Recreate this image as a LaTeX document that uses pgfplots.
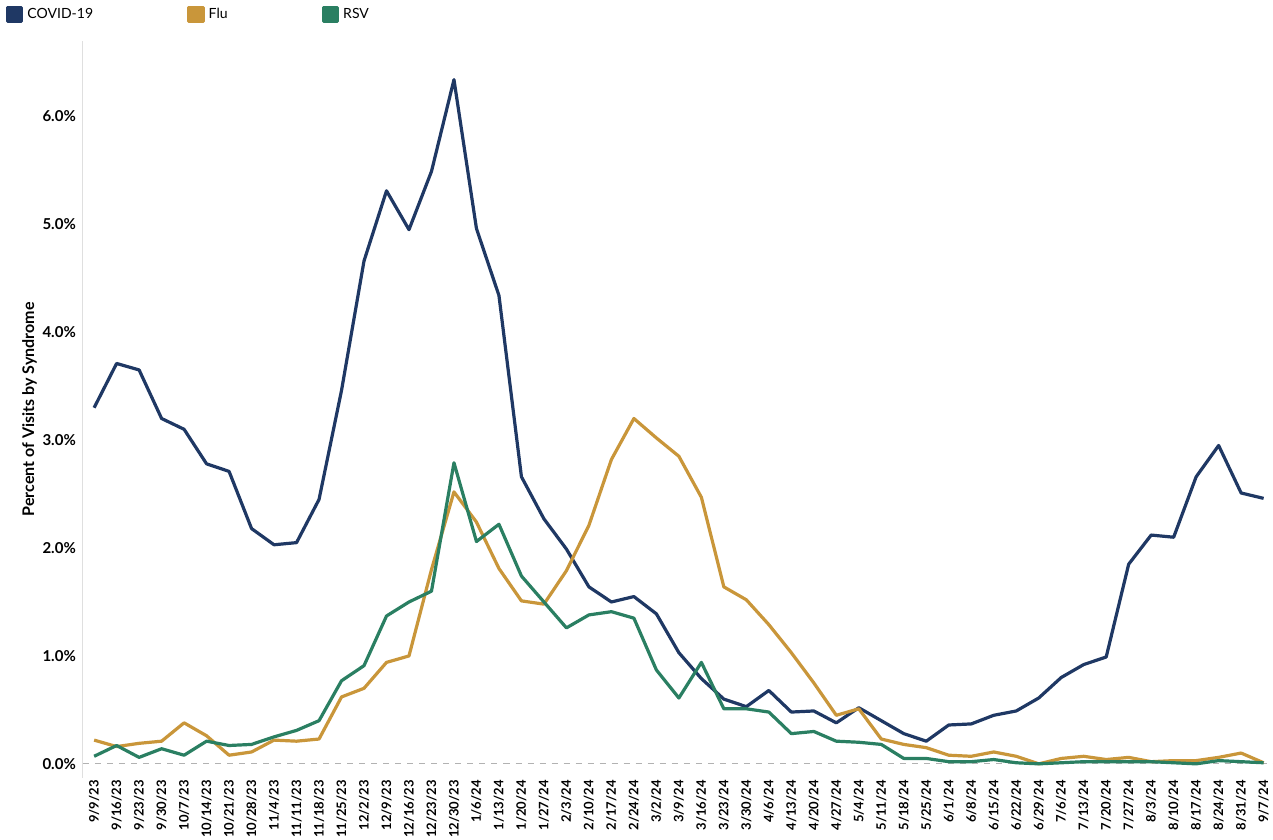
\documentclass[border=0pt]{standalone}
\usepackage{pgfplots}
\pgfplotsset{compat=1.18}
\usepackage{fontspec}
\setmainfont{Lato}
\definecolor{cov}{RGB}{31,56,100}
\definecolor{flu}{RGB}{201,150,58}
\definecolor{rsv}{RGB}{42,127,98}
\begin{document}
\begin{tikzpicture}
\begin{axis}[
  scale only axis, width=594pt, height=368pt,
  xmin=-0.5, xmax=52.4, ymin=-0.13, ymax=6.7,
  axis x line*=bottom, x axis line style={draw=none},
  axis y line*=left, y axis line style={gray!25},
  xtick={0,...,52}, xtick style={draw=none},
  xticklabels={{9/9/23},{9/16/23},{9/23/23},{9/30/23},{10/7/23},{10/14/23},{10/21/23},{10/28/23},{11/4/23},{11/11/23},{11/18/23},{11/25/23},{12/2/23},{12/9/23},{12/16/23},{12/23/23},{12/30/23},{1/6/24},{1/13/24},{1/20/24},{1/27/24},{2/3/24},{2/10/24},{2/17/24},{2/24/24},{3/2/24},{3/9/24},{3/16/24},{3/23/24},{3/30/24},{4/6/24},{4/13/24},{4/20/24},{4/27/24},{5/4/24},{5/11/24},{5/18/24},{5/25/24},{6/1/24},{6/8/24},{6/15/24},{6/22/24},{6/29/24},{7/6/24},{7/13/24},{7/20/24},{7/27/24},{8/3/24},{8/10/24},{8/17/24},{8/24/24},{8/31/24},{9/7/24}},
  xticklabel style={rotate=90, anchor=east, font=\fontsize{6.5}{7}\selectfont\bfseries, inner sep=1pt},
  ytick={0,1,2,3,4,5,6}, yticklabel={\pgfmathprintnumber[fixed,fixed zerofill,precision=1]{\tick}\%},
  /pgf/number format/assume math mode=true,
  yticklabel style={font=\fontsize{7.5}{8}\selectfont\bfseries},
  ytick style={draw=none},
  ylabel={\bfseries Percent of Visits by Syndrome}, ylabel style={font=\fontsize{8}{9}\selectfont, yshift=-4pt},
  legend style={at={(-0.07,1.015)}, anchor=south west, draw=none, legend columns=3, font=\fontsize{7}{8}\selectfont,
    /tikz/every even column/.append style={column sep=45pt}},
  legend image code/.code={\fill[#1] (0cm,-0.12cm) rectangle (0.25cm,0.12cm);},
  clip=false,
  every axis plot/.append style={line width=1.6pt, line join=round},
]
\draw[gray!60, dashed, thin] (axis cs:-0.5,0) -- (axis cs:52.4,0);
\addplot[cov] coordinates {(0,3.30)(1,3.71)(2,3.65)(3,3.20)(4,3.10)(5,2.78)(6,2.71)(7,2.18)(8,2.03)(9,2.05)(10,2.45)(11,3.46)(12,4.66)(13,5.31)(14,4.95)(15,5.49)(16,6.34)(17,4.96)(18,4.34)(19,2.66)(20,2.27)(21,1.99)(22,1.64)(23,1.50)(24,1.55)(25,1.39)(26,1.03)(27,0.79)(28,0.60)(29,0.53)(30,0.68)(31,0.48)(32,0.49)(33,0.38)(34,0.52)(35,0.40)(36,0.28)(37,0.21)(38,0.36)(39,0.37)(40,0.45)(41,0.49)(42,0.61)(43,0.80)(44,0.92)(45,0.99)(46,1.85)(47,2.12)(48,2.10)(49,2.66)(50,2.95)(51,2.51)(52,2.46)};
\addlegendentry{COVID-19}
\addplot[flu] coordinates {(0,0.22)(1,0.16)(2,0.19)(3,0.21)(4,0.38)(5,0.26)(6,0.08)(7,0.11)(8,0.22)(9,0.21)(10,0.23)(11,0.62)(12,0.70)(13,0.94)(14,1.00)(15,1.80)(16,2.52)(17,2.24)(18,1.81)(19,1.51)(20,1.48)(21,1.79)(22,2.21)(23,2.82)(24,3.20)(25,3.02)(26,2.85)(27,2.47)(28,1.64)(29,1.52)(30,1.29)(31,1.03)(32,0.75)(33,0.45)(34,0.51)(35,0.23)(36,0.18)(37,0.15)(38,0.08)(39,0.07)(40,0.11)(41,0.07)(42,0.0)(43,0.05)(44,0.07)(45,0.04)(46,0.06)(47,0.02)(48,0.03)(49,0.03)(50,0.06)(51,0.10)(52,0.01)};
\addlegendentry{Flu}
\addplot[rsv] coordinates {(0,0.07)(1,0.17)(2,0.06)(3,0.14)(4,0.08)(5,0.21)(6,0.17)(7,0.18)(8,0.25)(9,0.31)(10,0.40)(11,0.77)(12,0.91)(13,1.37)(14,1.50)(15,1.60)(16,2.79)(17,2.06)(18,2.22)(19,1.74)(20,1.50)(21,1.26)(22,1.38)(23,1.41)(24,1.35)(25,0.87)(26,0.61)(27,0.94)(28,0.51)(29,0.51)(30,0.48)(31,0.28)(32,0.30)(33,0.21)(34,0.20)(35,0.18)(36,0.05)(37,0.05)(38,0.02)(39,0.02)(40,0.04)(41,0.01)(42,0.0)(43,0.01)(44,0.02)(45,0.02)(46,0.02)(47,0.02)(48,0.01)(49,0.0)(50,0.03)(51,0.02)(52,0.01)};
\addlegendentry{RSV}
\end{axis}
\end{tikzpicture}
\end{document}
